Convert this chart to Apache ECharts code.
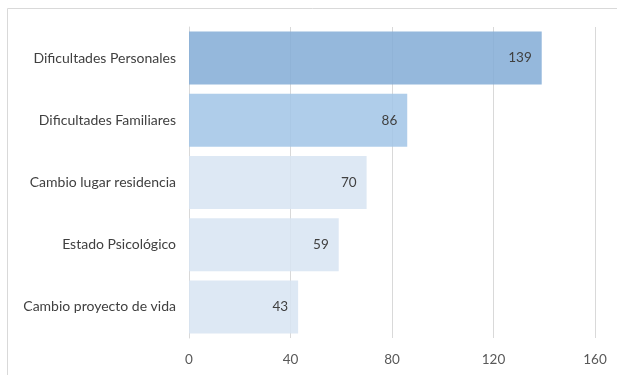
<!DOCTYPE html>
<html>
<head>
<meta charset="utf-8">
<script src="https://cdn.jsdelivr.net/npm/echarts@6/dist/echarts.min.js"></script>
<style>html,body{margin:0;padding:0;background:#fff;}#c{width:617px;height:375px;}</style>
</head>
<body>
<div id="c"></div>
<script>
const categories = ["Dificultades Personales", "Dificultades Familiares", "Cambio lugar residencia", "Estado Psicológico", "Cambio proyecto de vida"];
const values = [139, 86, 70, 59, 43];
const barColors = ["rgba(130,172,214,0.85)", "rgba(161,196,230,0.85)", "rgba(215,228,242,0.85)", "rgba(215,228,242,0.85)", "rgba(215,228,242,0.85)"];
const xTicks = [0, 40, 80, 120, 160];

const chart = echarts.init(document.getElementById('c'), null, {renderer: 'canvas'});
const font = 'Lato, "Open Sans", sans-serif';
chart.setOption({
  animation: false,
  textStyle: {fontFamily: font},
  graphic: [{
    type: 'rect', silent: true, z: -10,
    shape: {x: 7.5, y: 8.5, width: 700, height: 500},
    style: {fill: 'none', stroke: '#d9d9d9', lineWidth: 1}
  }],
  grid: {left: 189, right: 22, top: 27, bottom: 37, containLabel: false},
  xAxis: {
    type: 'value', min: xTicks[0], max: xTicks[xTicks.length - 1], interval: 40,
    axisLine: {show: false}, axisTick: {show: false},
    axisLabel: {color: '#595959', fontSize: 13.5, margin: 15, fontFamily: font},
    splitLine: {show: true, lineStyle: {color: '#d9d9d9', width: 1}}
  },
  yAxis: {
    type: 'category', inverse: true, data: categories,
    axisLine: {show: true, lineStyle: {color: '#d9d9d9'}}, axisTick: {show: false},
    axisLabel: {color: '#404040', fontSize: 14, margin: 13, fontFamily: font}
  },
  series: [{
    type: 'bar', barWidth: 53,
    data: values.map((v, i) => ({value: v, itemStyle: {color: barColors[i]}})),
    label: {show: true, position: 'insideRight', distance: 10, color: '#404040', fontSize: 13.5, fontFamily: font}
  }]
});
</script>
</body>
</html>
